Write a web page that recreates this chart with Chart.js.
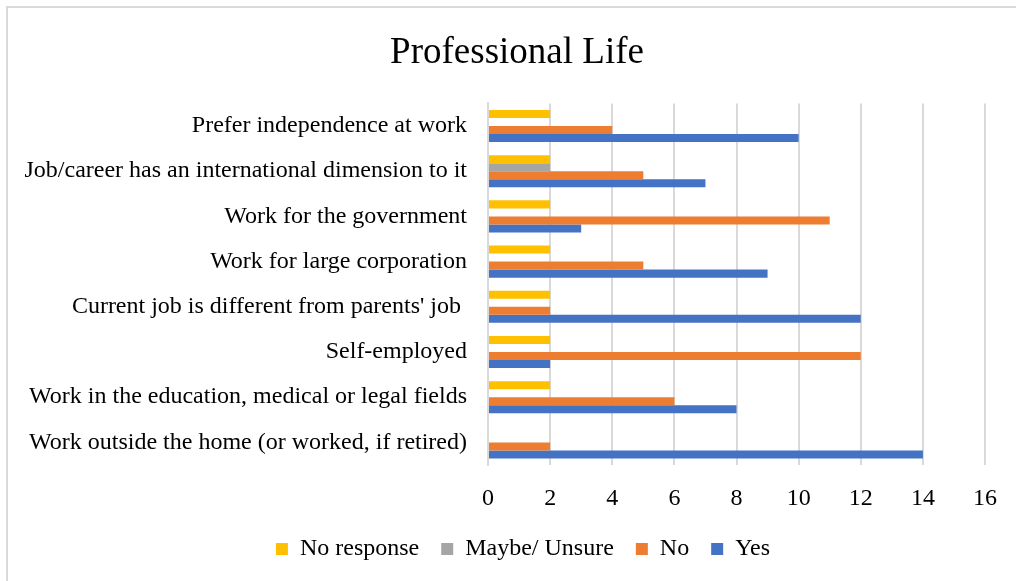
<!DOCTYPE html>
<html>
<head>
<meta charset="utf-8">
<script src="https://cdn.jsdelivr.net/npm/chart.js@4"></script>
<style>
  html, body { margin: 0; padding: 0; background: #fff; }
  #wrap { position: relative; width: 1016px; height: 581px; }
  #frame { position: absolute; left: 6px; top: 6px; width: 1020px; height: 590px; border: 2px solid #d9d9d9; box-sizing: border-box; }
  canvas { position: absolute; left: 0; top: 0; }
</style>
</head>
<body>
<div id="wrap">
  <div id="frame"></div>
  <canvas id="myChart" width="1016" height="581"></canvas>
</div>
<script>
const categories = [
  'Prefer independence at work',
  'Job/career has an international dimension to it',
  'Work for the government',
  'Work for large corporation',
  "Current job is different from parents' job ",
  'Self-employed',
  'Work in the education, medical or legal fields',
  'Work outside the home (or worked, if retired)'
];
const noResponse = [2, 2, 2, 2, 2, 2, 2, 0];
const maybeUnsure = [0, 2, 0, 0, 0, 0, 0, 0];
const no = [4, 5, 11, 5, 2, 12, 6, 2];
const yes = [10, 7, 3, 9, 12, 2, 8, 14];
const xTicks = [0, 2, 4, 6, 8, 10, 12, 14, 16];

// centre title and legend under the whole frame, not just the left part
const blockShift = {
  id: 'blockShift',
  afterLayout(chart) {
    const lg = chart.legend;
    if (lg) { lg.left += 30; lg.right += 30; }
    const t = chart.titleBlock;
    if (t) { t.left += 24; t.right += 24; }
  }
};

document.addEventListener('DOMContentLoaded', () => {
  const ctx = document.getElementById('myChart');
  const serif = "'Liberation Serif', 'Times New Roman', serif";
  Chart.defaults.font.family = serif;
  Chart.defaults.color = '#000';

  new Chart(ctx, {
    type: 'bar',
    data: {
      labels: categories,
      datasets: [
        { label: 'No response', data: noResponse, backgroundColor: '#FFC000' },
        { label: 'Maybe/ Unsure', data: maybeUnsure, backgroundColor: '#A5A5A5' },
        { label: 'No', data: no, backgroundColor: '#ED7D31' },
        { label: 'Yes', data: yes, backgroundColor: '#4472C4' }
      ]
    },
    plugins: [blockShift],
    options: {
      indexAxis: 'y',
      responsive: false,
      animation: false,
      datasets: { bar: { barPercentage: 1, categoryPercentage: 0.71 } },
      layout: { padding: { left: 0, right: 30, top: 31, bottom: 10 } },
      plugins: {
        title: {
          display: true,
          text: 'Professional Life',
          font: { size: 37, weight: 'normal' },
          padding: { top: 0, bottom: 28 }
        },
        legend: {
          position: 'bottom',
          labels: {
            boxWidth: 12,
            boxHeight: 12,
            padding: 22,
            font: { size: 24 }
          }
        },
        tooltip: { enabled: false }
      },
      scales: {
        x: {
          min: 0,
          max: 16,
          afterBuildTicks: axis => { axis.ticks = xTicks.map(v => ({ value: v })); },
          afterFit: axis => { axis.height = 50; },
          grid: { color: '#d9d9d9', lineWidth: 2, drawTicks: false },
          border: { display: false },
          ticks: { font: { size: 24 }, padding: 19 }
        },
        y: {
          afterFit: axis => { axis.width = 488; },
          grid: { display: false },
          border: { display: true, color: '#d9d9d9', width: 2 },
          ticks: { font: { size: 24 }, padding: 13 }
        }
      }
    }
  });
});
</script>
</body>
</html>
